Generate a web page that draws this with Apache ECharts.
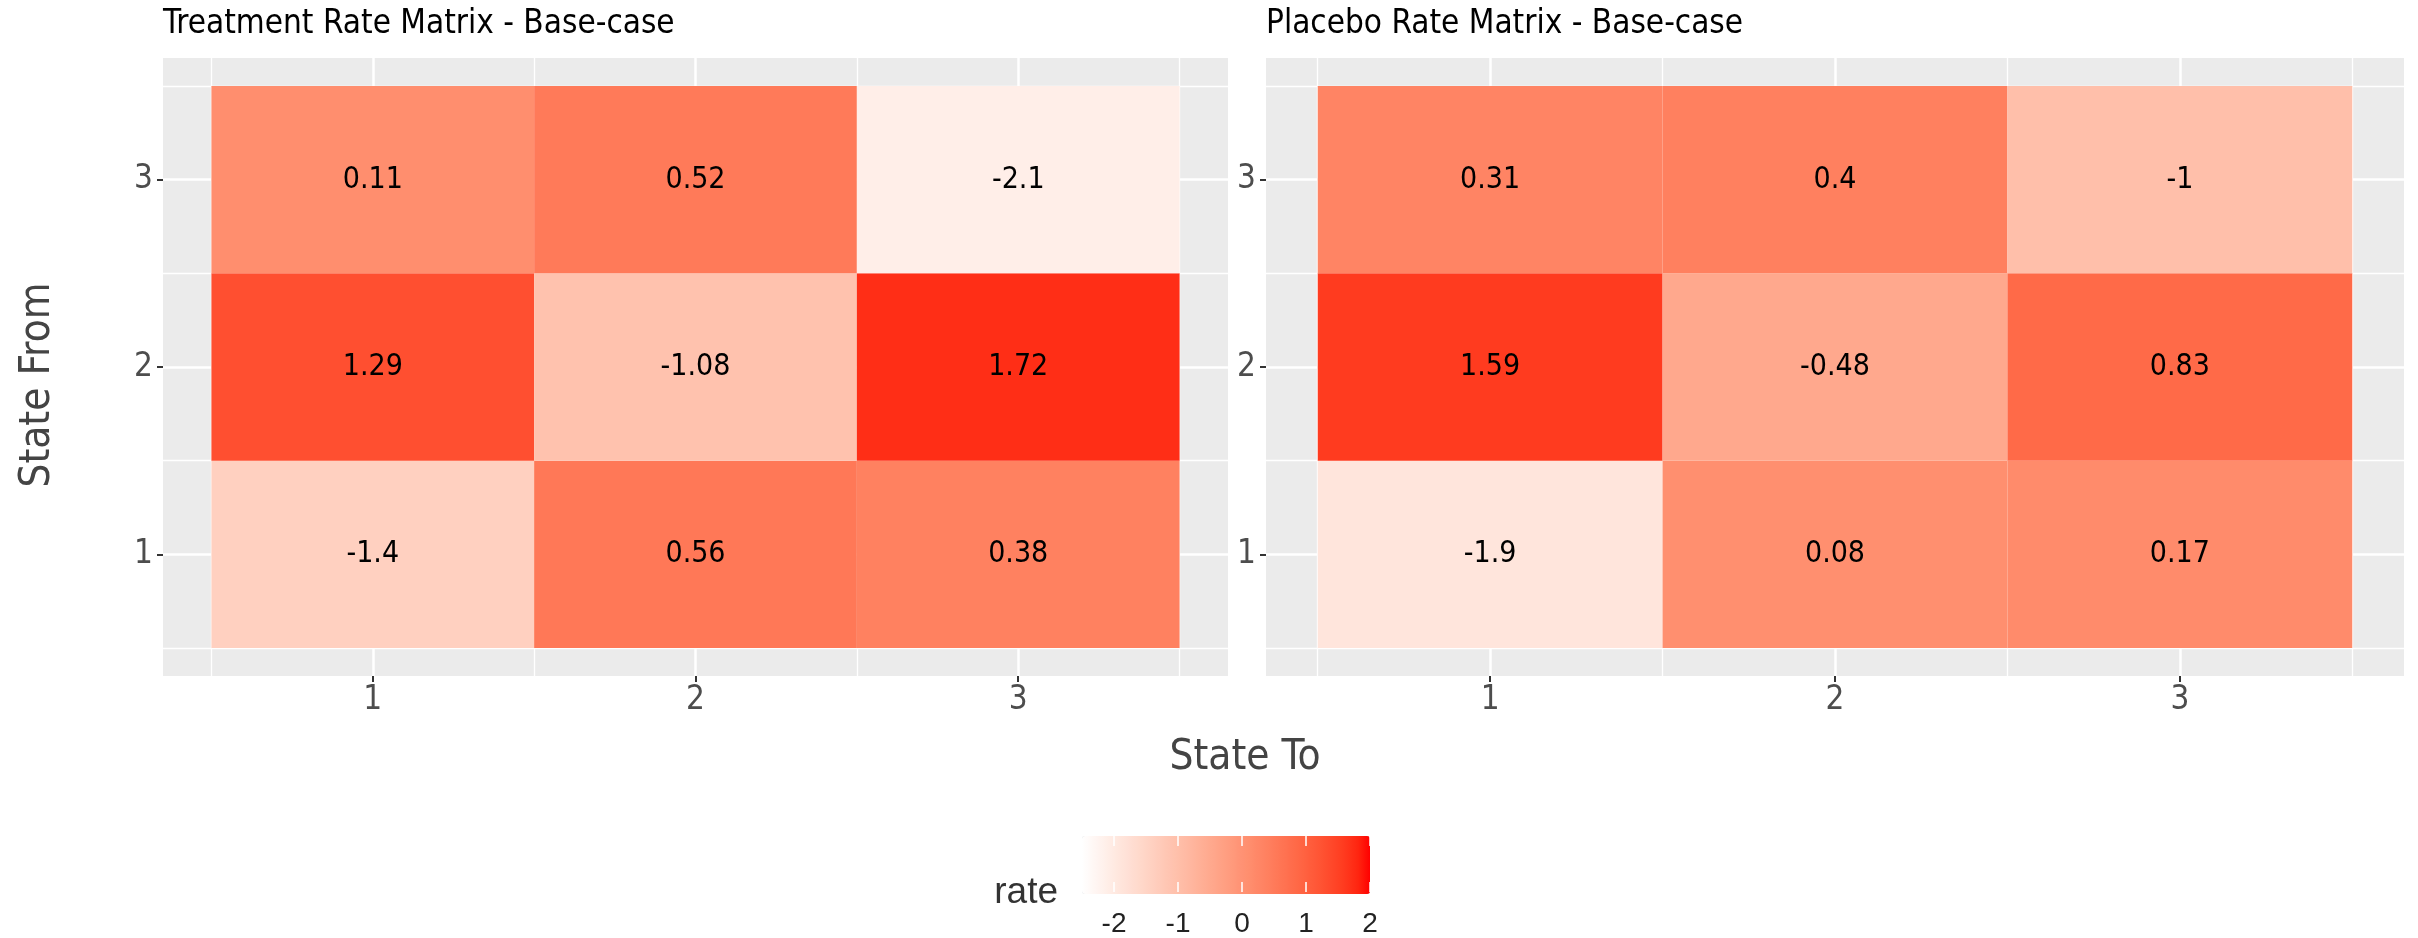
<!DOCTYPE html>
<html>
<head>
<meta charset="utf-8">
<script src="https://cdn.jsdelivr.net/npm/echarts@6/dist/echarts.min.js"></script>
<style>
html,body{margin:0;padding:0;background:#fff;}
#chart{width:2418px;height:938px;}
</style>
</head>
<body>
<div id="chart"></div>
<script>
// ---- data ----
const statesTo = [1, 2, 3];
const statesFrom = [1, 2, 3];
// rows: State From 1,2,3 ; columns: State To 1,2,3
const treatmentFrom1 = [-1.4, 0.56, 0.38];
const treatmentFrom2 = [1.29, -1.08, 1.72];
const treatmentFrom3 = [0.11, 0.52, -2.1];
const placeboFrom1 = [-1.9, 0.08, 0.17];
const placeboFrom2 = [1.59, -0.48, 0.83];
const placeboFrom3 = [0.31, 0.4, -1];
const legendBreaks = [-2, -1, 0, 1, 2];
const rateMin = -2.5, rateMax = 2;

function toTriples(rows) {
  const out = [];
  rows.forEach((row, i) => row.forEach((v, j) => out.push([statesTo[j], statesFrom[i], v])));
  return out;
}
const treatmentData = toTriples([treatmentFrom1, treatmentFrom2, treatmentFrom3]);
const placeboData = toTriples([placeboFrom1, placeboFrom2, placeboFrom3]);

// ---- colour ramp (white -> red, interpolated in CIE Lab like ggplot) ----
function lab2hex(L, a, b) {
  const fy = (L + 16) / 116, fx = fy + a / 500, fz = fy - b / 200;
  const finv = t => (t * t * t > 0.008856 ? t * t * t : (t - 16 / 116) / 7.787);
  const X = 0.95047 * finv(fx), Y = finv(fy), Z = 1.08883 * finv(fz);
  let r = 3.2406 * X - 1.5372 * Y - 0.4986 * Z;
  let g = -0.9689 * X + 1.8758 * Y + 0.0415 * Z;
  let bb = 0.0557 * X - 0.2040 * Y + 1.0570 * Z;
  const gam = c => { c = c <= 0.0031308 ? 12.92 * c : 1.055 * Math.pow(c, 1 / 2.4) - 0.055; return Math.round(Math.max(0, Math.min(1, c)) * 255); };
  return '#' + [gam(r), gam(g), gam(bb)].map(v => v.toString(16).padStart(2, '0')).join('');
}
const lo = [100, 0, 0], hi = [53.2408, 80.0925, 67.2032];
const ramp = [];
for (let k = 0; k <= 24; k++) {
  const t = k / 24;
  ramp.push(lab2hex(lo[0] + (hi[0] - lo[0]) * t, lo[1] + (hi[1] - lo[1]) * t, lo[2] + (hi[2] - lo[2]) * t));
}

const condensed = '"DejaVu Sans Condensed", "DejaVu Sans", sans-serif';
const majorVals = [1, 2, 3];
const minorVals = [0.5, 1.5, 2.5, 3.5];

function renderTile(params, api) {
  const x = api.value(0), y = api.value(1), v = api.value(2);
  const p0 = api.coord([x - 0.5, y + 0.5]);
  const p1 = api.coord([x + 0.5, y - 0.5]);
  return {
    type: 'group',
    children: [
      { type: 'rect', shape: { x: p0[0], y: p0[1], width: p1[0] - p0[0], height: p1[1] - p0[1] },
        style: { fill: api.visual('color') } },
      { type: 'text', x: (p0[0] + p1[0]) / 2, y: (p0[1] + p1[1]) / 2,
        style: { text: String(v), fill: '#000', fontSize: 30, fontFamily: condensed, align: 'center', verticalAlign: 'middle' } }
    ]
  };
}

function majorAxis(gridIndex, isX) {
  return {
    type: 'value', gridIndex, min: 0.35, max: 3.65,
    position: isX ? 'bottom' : 'left',
    axisLine: { show: false },
    axisTick: { show: true, customValues: majorVals, length: 6, lineStyle: { color: '#333333', width: 2 } },
    axisLabel: { show: true, customValues: majorVals, fontSize: 33, fontFamily: condensed, color: '#4D4D4D', margin: isX ? 8 : 10 },
    splitLine: { show: true, lineStyle: { color: '#FFFFFF', width: 2.5 } },
    z: 1
  };
}
function minorAxis(gridIndex, isX) {
  return {
    type: 'value', gridIndex, min: 0.35, max: 3.65,
    position: isX ? 'top' : 'right',
    axisLine: { show: false },
    axisTick: { show: false, customValues: minorVals },
    axisLabel: { show: false, customValues: minorVals },
    splitLine: { show: true, lineStyle: { color: '#FFFFFF', width: 1.3 } },
    z: 1
  };
}

const chart = echarts.init(document.getElementById('chart'), null, { renderer: 'canvas' });
chart.setOption({
  animation: false,
  backgroundColor: '#FFFFFF',
  grid: [
    { left: 163, top: 58, width: 1065, height: 618, show: true, backgroundColor: '#EBEBEB', borderWidth: 0 },
    { left: 1266, top: 58, width: 1138, height: 618, show: true, backgroundColor: '#EBEBEB', borderWidth: 0 },
    { left: 1082, top: 836, width: 288, height: 58, show: false }
  ],
  xAxis: [
    majorAxis(0, true), minorAxis(0, true),
    majorAxis(1, true), minorAxis(1, true),
    {
      type: 'value', gridIndex: 2, min: rateMin, max: rateMax, position: 'bottom', z: 10,
      axisLine: { show: false },
      axisTick: { show: true, inside: true, customValues: legendBreaks, length: 10, lineStyle: { color: '#FFFFFF', width: 1.5 } },
      axisLabel: { show: true, customValues: legendBreaks, fontSize: 28, fontFamily: '"Liberation Sans", Arial, sans-serif', color: '#222222', margin: 18 },
      splitLine: { show: false }
    },
    {
      type: 'value', gridIndex: 2, min: rateMin, max: rateMax, position: 'top', z: 10,
      axisLine: { show: false },
      axisTick: { show: true, inside: true, customValues: legendBreaks, length: 10, lineStyle: { color: '#FFFFFF', width: 1.5 } },
      axisLabel: { show: false },
      splitLine: { show: false }
    }
  ],
  yAxis: [
    majorAxis(0, false), minorAxis(0, false),
    majorAxis(1, false), minorAxis(1, false),
    { type: 'value', gridIndex: 2, show: false, min: 0, max: 1 }
  ],
  visualMap: {
    type: 'continuous', min: rateMin, max: rateMax, dimension: 2, seriesIndex: [0, 1],
    orient: 'horizontal', left: 1082, top: 836, itemWidth: 58, itemHeight: 288,
    calculable: false, hoverLink: false, padding: 0, text: null,
    inRange: { color: ramp }
  },
  series: [
    { name: 'Treatment', type: 'custom', xAxisIndex: 0, yAxisIndex: 0, data: treatmentData, renderItem: renderTile, z: 3,
      encode: { x: 0, y: 1 } },
    { name: 'Placebo', type: 'custom', xAxisIndex: 2, yAxisIndex: 2, data: placeboData, renderItem: renderTile, z: 3,
      encode: { x: 0, y: 1 } }
  ],
  graphic: [
    { type: 'text', x: 163, y: 24, style: { text: 'Treatment Rate Matrix - Base-case', fill: '#000', fontSize: 33, fontFamily: condensed, align: 'left', verticalAlign: 'middle' } },
    { type: 'text', x: 1266, y: 24, style: { text: 'Placebo Rate Matrix - Base-case', fill: '#000', fontSize: 33, fontFamily: condensed, align: 'left', verticalAlign: 'middle' } },
    { type: 'text', x: 1245, y: 758, style: { text: 'State To', fill: '#444444', fontSize: 42, fontFamily: condensed, align: 'center', verticalAlign: 'middle' } },
    { type: 'text', x: 38, y: 385, rotation: Math.PI / 2, style: { text: 'State From', fill: '#444444', fontSize: 42, fontFamily: condensed, align: 'center', verticalAlign: 'middle' } },
    { type: 'text', x: 1058, y: 893, style: { text: 'rate', fill: '#333333', fontSize: 37, fontFamily: '"Liberation Sans", Arial, sans-serif', align: 'right', verticalAlign: 'middle' } }
  ]
});
</script>
</body>
</html>
